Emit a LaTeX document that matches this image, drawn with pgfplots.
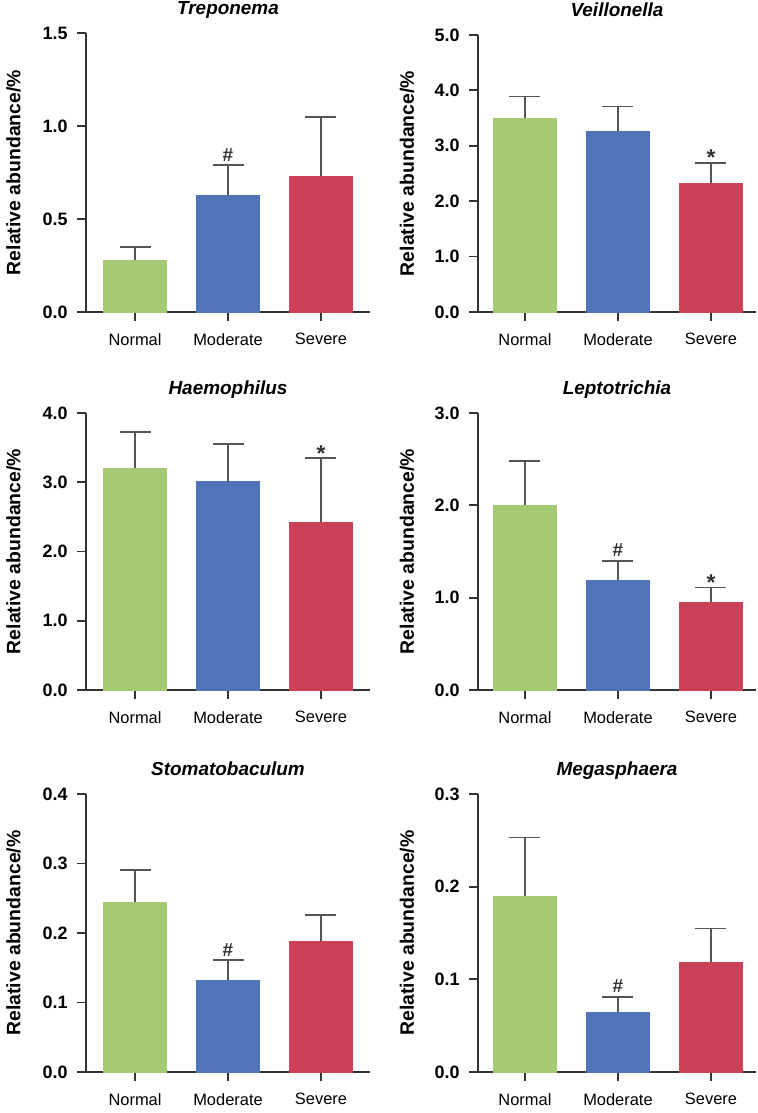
\documentclass[border=0pt]{standalone}
\usepackage{fontspec}
\setmainfont{Liberation Sans}
\usepackage{pgfplots}
\pgfplotsset{compat=1.18}
\definecolor{cgreen}{HTML}{A6C973}
\definecolor{cblue}{HTML}{5173B8}
\definecolor{cred}{HTML}{CC4058}
\definecolor{axgray}{HTML}{333333}
\definecolor{errgray}{HTML}{555555}

\pgfplotsset{
  panel/.style={
    scale only axis, axis lines*=left,
    ymin=0, xtick={0,1,2}, xticklabels={Normal,Moderate,Severe},
    tick align=outside, major tick length=9bp,
    axis line style={line width=1.8bp, color=axgray},
    every tick/.style={line width=1.8bp, color=axgray},
    yticklabel style={font=\bfseries\fontsize{18}{20}\selectfont, xshift=-6bp,
      /pgf/number format/.cd, fixed, fixed zerofill, precision=1, assume math mode=true},
    xticklabel style={font=\fontsize{16.5}{18}\selectfont, yshift=-9bp},
    ylabel={Relative abundance/\%},
    ylabel style={font=\bfseries\fontsize{19.5}{22}\selectfont, at={(axis description cs:-0.255,0.5)}, anchor=center},
    title style={font=\bfseries\itshape\fontsize{19}{22}\selectfont, at={(axis description cs:0.5,1)}, anchor=base, yshift=13bp},
    clip=false,
  },
  leftpanel/.style={panel, width=284bp, xmin=-0.527, xmax=2.527},
  rightpanel/.style={panel, width=278bp, xmin=-0.505, xmax=2.484},
  errstyle/.style={error bars/.cd, y dir=plus, y explicit,
    error bar style={line width=1.7bp, color=errgray},
    error mark options={rotate=90, mark size=15.5bp, line width=1.7bp, color=errgray}},
}
% #1 normal mean, #2 normal SE, #3 moderate mean, #4 moderate SE, #5 severe mean, #6 severe SE
\newcommand{\threebars}[6]{%
  \addplot[ybar, bar width=63bp, fill=cgreen, draw=cgreen, errstyle] coordinates {(0,#1) +- (0,#2)};
  \addplot[ybar, bar width=63bp, fill=cblue, draw=cblue, errstyle] coordinates {(1,#3) +- (0,#4)};
  \addplot[ybar, bar width=63bp, fill=cred, draw=cred, errstyle] coordinates {(2,#5) +- (0,#6)};
}
\newcommand{\hashmark}[2]{%
  \addplot[draw=none, nodes near coords={\#}, every node near coord/.style={anchor=base, yshift=4bp, font=\bfseries\fontsize{19}{20}\selectfont, text=axgray}] coordinates {(#1,#2)};
}
\newcommand{\starmark}[2]{%
  \addplot[draw=none, nodes near coords={*}, every node near coord/.style={anchor=base, yshift=-3bp, font=\bfseries\fontsize{23}{24}\selectfont, text=axgray}] coordinates {(#1,#2)};
}

\begin{document}
\begin{tikzpicture}
\path[use as bounding box] (0,0) rectangle (758bp,1113bp);

% Row 1
\begin{axis}[leftpanel, at={(86bp,801bp)}, anchor=south west, height=279bp,
  title={Treponema}, ymax=1.5, ytick={0,0.5,1,1.5}]
  \threebars{0.28}{0.07}{0.63}{0.16}{0.73}{0.32}
  \hashmark{1}{0.79}
\end{axis}
\begin{axis}[rightpanel, at={(478bp,801bp)}, anchor=south west, height=277bp,
  title={Veillonella}, ymax=5, ytick={0,1,2,3,4,5}]
  \threebars{3.50}{0.39}{3.26}{0.45}{2.33}{0.36}
  \starmark{2}{2.69}
\end{axis}

% Row 2
\begin{axis}[leftpanel, at={(86bp,423bp)}, anchor=south west, height=277bp,
  title={Haemophilus}, ymax=4, ytick={0,1,2,3,4}]
  \threebars{3.20}{0.53}{3.01}{0.54}{2.42}{0.93}
  \starmark{2}{3.35}
\end{axis}
\begin{axis}[rightpanel, at={(478bp,423bp)}, anchor=south west, height=277bp,
  title={Leptotrichia}, ymax=3, ytick={0,1,2,3}]
  \threebars{2.00}{0.48}{1.19}{0.21}{0.95}{0.16}
  \hashmark{1}{1.40}
  \starmark{2}{1.11}
\end{axis}

% Row 3
\begin{axis}[leftpanel, at={(86bp,41bp)}, anchor=south west, height=278bp,
  title={Stomatobaculum}, ymax=0.4, ytick={0,0.1,0.2,0.3,0.4}]
  \threebars{0.244}{0.047}{0.132}{0.029}{0.188}{0.038}
  \hashmark{1}{0.161}
\end{axis}
\begin{axis}[rightpanel, at={(478bp,41bp)}, anchor=south west, height=278bp,
  title={Megasphaera}, ymax=0.3, ytick={0,0.1,0.2,0.3}]
  \threebars{0.190}{0.063}{0.065}{0.016}{0.119}{0.036}
  \hashmark{1}{0.081}
\end{axis}
\end{tikzpicture}
\end{document}
